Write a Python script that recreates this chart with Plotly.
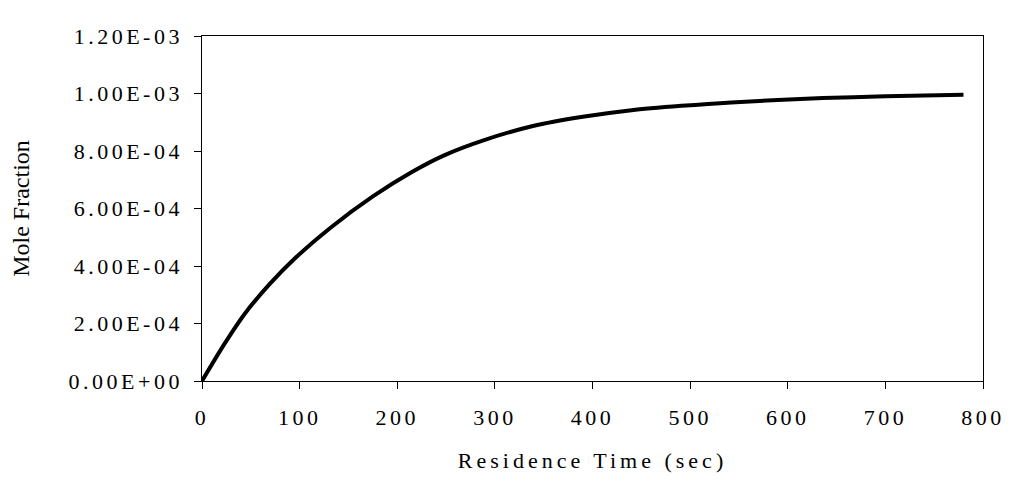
import plotly.graph_objects as go

# Data (residence time in s, mole fraction)
time_s = [0, 23, 44, 69, 95, 132, 175, 215, 248, 289, 339, 390, 440, 491, 542, 636, 700, 780]
mole_fraction = [0.0, 1.29e-4, 2.35e-4, 3.36e-4, 4.26e-4, 5.34e-4, 6.42e-4, 7.27e-4, 7.85e-4,
                 8.38e-4, 8.87e-4, 9.19e-4, 9.42e-4, 9.57e-4, 9.69e-4, 9.84e-4, 9.90e-4, 9.96e-4]

y_tickvals = [0.0, 2e-4, 4e-4, 6e-4, 8e-4, 1.0e-3, 1.2e-3]
y_ticktext = ["0.00E+00", "2.00E-04", "4.00E-04", "6.00E-04", "8.00E-04", "1.00E-03", "1.20E-03"]
x_tickvals = [0, 100, 200, 300, 400, 500, 600, 700, 800]
x_ticktext = ["0", "100", "200", "300", "400", "500", "600", "700", "800"]

FONT = "Liberation Serif"

fig = go.Figure()
fig.add_trace(go.Scatter(
    x=time_s, y=mole_fraction, mode="lines",
    line=dict(color="black", width=4, shape="spline", smoothing=0.8),
    showlegend=False, hoverinfo="skip",
))

fig.update_layout(
    width=1012, height=481,
    margin=dict(l=202, r=26, t=36, b=98),
    paper_bgcolor="white", plot_bgcolor="white",
    font=dict(family=FONT, color="black"),
    xaxis=dict(
        range=[0, 800], tickvals=x_tickvals, ticktext=x_ticktext,
        showgrid=False, zeroline=False,
        showline=True, linecolor="black", linewidth=1.3, mirror=True,
        ticks="outside", ticklen=7, tickcolor="black", tickwidth=1.2,
        tickfont=dict(family=FONT, size=22, color="black"),
        ticklabelstandoff=9,
        title=dict(text="Residence Time (sec)", font=dict(family=FONT, size=22, color="black"),
                   standoff=24),
    ),
    yaxis=dict(
        range=[0, 1.2e-3], tickvals=y_tickvals, ticktext=y_ticktext,
        showgrid=False, zeroline=False,
        showline=True, linecolor="black", linewidth=1.3, mirror=True,
        ticks="outside", ticklen=7, tickcolor="black", tickwidth=1.2,
        tickfont=dict(family=FONT, size=22, color="black"),
        ticklabelstandoff=10,
        title=dict(text="Mole Fraction", font=dict(family=FONT, size=24, color="black"),
                   standoff=56),
    ),
)

post = """
document.body.style.margin = '0';
document.body.style.padding = '0';
var gd = document.getElementById('{plot_id}');
function spread(sel, spacing, mode){
  gd.querySelectorAll(sel).forEach(function(t){
    t.style.letterSpacing = spacing + 'px';
    t.setAttribute('dx', 0);
    var bb = t.getBBox();
    var x = parseFloat(t.getAttribute('x') || 0);
    var d = (mode === 'middle') ? x - (bb.x + bb.width / 2) : x - (bb.x + bb.width - spacing);
    t.setAttribute('dx', d);
  });
}
function spaceOut(){
  spread('.xtick text', 3.5, 'middle');
  spread('.ytick text', 3.5, 'end');
  spread('.g-xtitle text', 4, 'middle');
}
spaceOut();
setTimeout(spaceOut, 0);
setTimeout(spaceOut, 300);
if (gd.on) { gd.on('plotly_afterplot', spaceOut); }
"""

fig.write_html("out.html", post_script=post, config={"displayModeBar": False})
